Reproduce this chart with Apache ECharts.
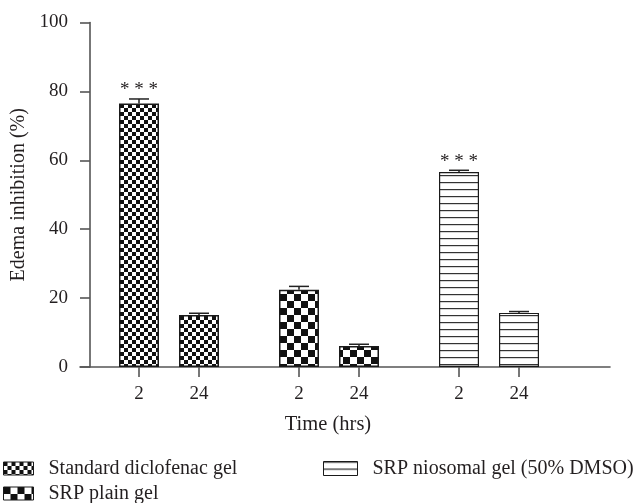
<!DOCTYPE html>
<html>
<head>
<meta charset="utf-8">
<script src="https://cdn.jsdelivr.net/npm/echarts@6/dist/echarts.min.js"></script>
<style>
  html, body { margin: 0; padding: 0; background: #fff; }
  #chart { width: 639px; height: 503px; }
</style>
</head>
<body>
<div id="chart"></div>
<script>
// Edema inhibition (%) at 2 h and 24 h for three topical formulations
const formulations = ['Standard diclofenac gel', 'SRP plain gel', 'SRP niosomal gel (50% DMSO)'];
const timeLabels = ['2', '24'];
const inhibition = [
  [76.5, 15.1],   // Standard diclofenac gel
  [22.4, 6.1],    // SRP plain gel
  [56.6, 15.7]    // SRP niosomal gel (50% DMSO)
];
const sem = [
  [1.3, 0.5],
  [1.0, 0.5],
  [0.5, 0.4]
];
const significance = [
  ['***', ''],
  ['', ''],
  ['***', '']
];

const FONT = 'Liberation Serif';
const TEXT = '#231f20';
const AXIS = '#555555';

// fill patterns drawn on small canvases and tiled across the bars
function checker(cell) {
  const c = document.createElement('canvas');
  c.width = c.height = cell * 2;
  const g = c.getContext('2d');
  g.fillStyle = '#ffffff';
  g.fillRect(0, 0, cell * 2, cell * 2);
  g.fillStyle = '#111111';
  g.fillRect(0, 0, cell, cell);
  g.fillRect(cell, cell, cell, cell);
  return c;
}
function hlines(step) {
  const c = document.createElement('canvas');
  c.width = 8; c.height = step;
  const g = c.getContext('2d');
  g.fillStyle = '#ffffff';
  g.fillRect(0, 0, 8, step);
  g.fillStyle = '#333333';
  g.fillRect(0, 0, 8, 1.2);
  return c;
}
const fills = [
  { image: checker(4), repeat: 'repeat' },
  { image: checker(7), repeat: 'repeat' },
  { image: hlines(7), repeat: 'repeat' }
];

// horizontal layout in axis units: bars 3 apart inside a group, groups 8 apart
const slot = (g, t) => g * 8 + t * 3;
const tickValues = [];
const tickText = {};
formulations.forEach((f, g) => timeLabels.forEach((lab, t) => {
  tickValues.push(slot(g, t));
  tickText[slot(g, t)] = lab;
}));

const barSeries = formulations.map((name, g) => ({
  name: name,
  type: 'bar',
  barWidth: 40,
  barGap: '-100%',
  itemStyle: {
    color: fills[g],
    borderColor: '#1a1a1a',
    borderWidth: g === 2 ? 1.2 : 1.5
  },
  data: inhibition[g].map((v, t) => [slot(g, t), v])
}));

const errData = [];
formulations.forEach((f, g) => inhibition[g].forEach((v, t) => {
  errData.push([slot(g, t), v, sem[g][t], significance[g][t]]);
}));

const errSeries = {
  type: 'custom',
  z: 5,
  silent: true,
  encode: { x: 0, y: 1 },
  data: errData,
  renderItem: function (params, api) {
    const x = api.value(0), v = api.value(1), e = api.value(2);
    const sig = errData[params.dataIndex][3];
    const base = api.coord([x, v]);
    const top = api.coord([x, v + e]);
    const children = [
      { type: 'line', shape: { x1: base[0], y1: base[1], x2: top[0], y2: top[1] },
        style: { stroke: '#222', lineWidth: 1.5 } },
      { type: 'line', shape: { x1: top[0] - 10, y1: top[1], x2: top[0] + 10, y2: top[1] },
        style: { stroke: '#222', lineWidth: 1.5 } }
    ];
    if (sig) {
      children.push({
        type: 'text',
        style: {
          text: sig.split('').join(' '), x: top[0], y: top[1] + 1,
          align: 'center', verticalAlign: 'bottom',
          font: '19px "' + FONT + '"', fill: TEXT
        }
      });
    }
    return { type: 'group', children: children };
  }
};

const legendText = { fontFamily: FONT, fontSize: 20, color: TEXT, lineHeight: 21, padding: [0, 0, 0, 10] };
// one legend block per formulation, laid out in two columns
const legendPos = [
  { left: 3, top: 458, w: 30, h: 13 },
  { left: 3, top: 483, w: 30, h: 13 },
  { left: 323, top: 458, w: 34, h: 14 }
];

const chart = echarts.init(document.getElementById('chart'), null, { renderer: 'canvas' });
chart.setOption({
  animation: false,
  backgroundColor: '#ffffff',
  textStyle: { fontFamily: FONT, color: TEXT },
  title: {
    text: 'Time (hrs)',
    left: 328, top: 414, textAlign: 'center', padding: 0,
    textStyle: { fontFamily: FONT, fontSize: 20.5, fontWeight: 'normal', color: TEXT }
  },
  grid: { left: 80, width: 530, top: 22.5, height: 344.5, containLabel: false },
  legend: formulations.map((name, i) => ({
    data: [name],
    left: legendPos[i].left, top: legendPos[i].top, padding: 0,
    icon: 'rect',
    itemWidth: legendPos[i].w, itemHeight: legendPos[i].h,
    textStyle: legendText,
    itemStyle: { borderWidth: 1, borderColor: '#1a1a1a' }
  })),
  xAxis: {
    type: 'value',
    min: -2.95, max: 23.55,
    splitLine: { show: false },
    axisLine: { show: true, onZero: false, lineStyle: { color: AXIS, width: 1.6 } },
    axisTick: { show: true, customValues: tickValues, length: 10, lineStyle: { color: AXIS, width: 1.6 } },
    axisLabel: {
      customValues: tickValues, margin: 18,
      fontFamily: FONT, fontSize: 19, color: TEXT,
      formatter: v => tickText[Math.round(v)] || ''
    }
  },
  yAxis: {
    type: 'value',
    min: 0, max: 100, interval: 20,
    offset: -10,
    name: 'Edema inhibition (%)',
    nameLocation: 'middle', nameGap: 53,
    nameTextStyle: { fontFamily: FONT, fontSize: 20, color: TEXT },
    splitLine: { show: false },
    axisLine: { show: true, onZero: false, lineStyle: { color: AXIS, width: 1.6 } },
    axisTick: { show: true, length: 10, lineStyle: { color: AXIS, width: 1.6 } },
    axisLabel: { margin: 22, fontFamily: FONT, fontSize: 19, color: TEXT }
  },
  series: barSeries.concat([errSeries])
});
</script>
</body>
</html>
